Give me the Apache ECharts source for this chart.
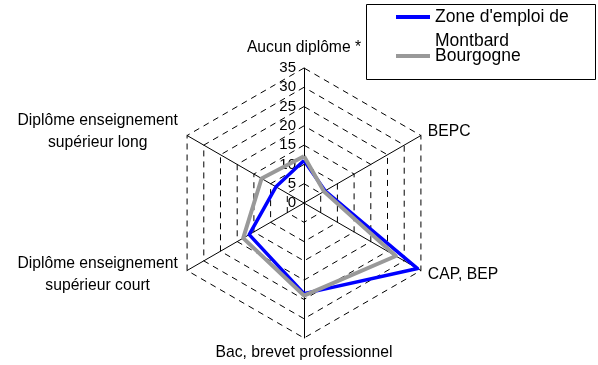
<!DOCTYPE html>
<html>
<head>
    <meta charset="utf-8">
    <title>ECharts</title>
    <script type="text/javascript" src="https://cdn.jsdelivr.net/npm/echarts@6/dist/echarts.min.js"></script>
</head>
<body style="margin:0">
<div id="main" style="width: 598px;height:365px;"></div>

<script type="text/javascript">
    // ordre ECharts : sens anti-horaire depuis le haut
    var categories = ['Aucun diplôme *', 'Diplôme enseignement\nsupérieur long', 'Diplôme enseignement\nsupérieur court',
        'Bac, brevet professionnel', 'CAP, BEP', 'BEPC'];
    var montbard = [11, 8.4, 16.4, 23.5, 34, 6.3];
    var bourgogne = [12.1, 12.7, 18.2, 24, 27.5, 6];
    var axisMax = 35;

    var seriesNames = ["Zone d'emploi de\nMontbard", 'Bourgogne'];
    var nameGaps = [12, 8, 8, 7, 8, 8];

    var chart = echarts.init(document.getElementById('main'));
    var font = "'Liberation Sans', Arial, sans-serif";

    var option = {
        animation: false,
        graphic: [{
            type: 'rect',
            z: 0,
            shape: {x: 366.5, y: 4.5, width: 229, height: 75},
            style: {fill: '#fff', stroke: '#000', lineWidth: 1}
        }],
        legend: {
            orient: 'vertical',
            left: 396,
            top: -19,
            padding: 0,
            itemGap: -7,
            itemWidth: 34,
            itemHeight: 4,
            icon: 'rect',
            z: 5,
            textStyle: {fontSize: 17.5, fontFamily: font, color: '#000', lineHeight: 20},
            // ligne vide en tete pour aligner la 1re ligne sur le trait
            formatter: function (name) {
                return name === seriesNames[0] ? '\n' + name : name;
            },
            data: [
                {name: seriesNames[0], textStyle: {lineHeight: 24}},
                {name: seriesNames[1]}
            ]
        },
        radar: {
            center: [304, 203],
            radius: 135,
            startAngle: 90,
            splitNumber: 7,
            shape: 'polygon',
            indicator: categories.map(function (c, i) {
                var ind = {name: c, min: 0, max: axisMax, nameGap: nameGaps[i]};
                if (i === 0) ind.axisLabel = {show: true};
                return ind;
            }),
            axisName: {
                color: '#000',
                fontSize: 15.7,
                fontFamily: font,
                formatter: function (v) {
                    if (v.indexOf('\n') < 0) return v;
                    return v.split('\n').map(function (s) { return '{c|' + s + '}'; }).join('\n');
                },
                rich: {
                    c: {width: 165, align: 'center', fontSize: 15.7, fontFamily: font, color: '#000', lineHeight: 22}
                }
            },
            axisLine: {lineStyle: {color: '#000', width: 1}},
            axisTick: {show: false},
            axisLabel: {show: false, color: '#000', fontSize: 15, fontFamily: font, margin: 8},
            splitLine: {lineStyle: {color: '#000', width: 1, type: [6, 5]}},
            splitArea: {show: false}
        },
        series: [{
            type: 'radar',
            symbol: 'none',
            data: [
                {
                    name: seriesNames[0], value: montbard,
                    lineStyle: {color: '#0000ff', width: 3.5},
                    itemStyle: {color: '#0000ff'}
                },
                {
                    name: seriesNames[1], value: bourgogne,
                    lineStyle: {color: '#999999', width: 4},
                    itemStyle: {color: '#999999'}
                }
            ]
        }]
    };
    chart.setOption(option);
</script>
</body>
</html>
